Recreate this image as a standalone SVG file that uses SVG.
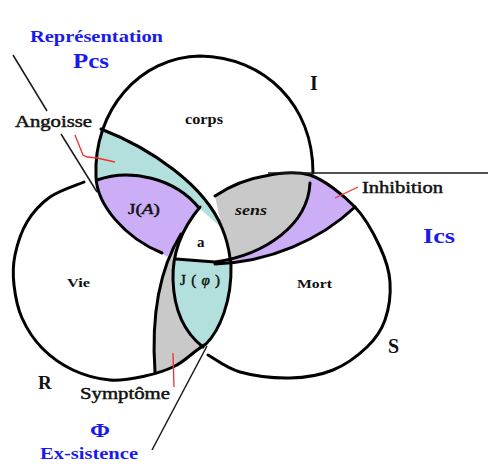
<svg xmlns="http://www.w3.org/2000/svg" width="488" height="474" viewBox="0 0 488 474">
<style>
.ring{fill:none;stroke:#000;stroke-width:3;stroke-linecap:round;stroke-linejoin:round}
.ptr{fill:none;stroke:#1a1a1a;stroke-width:1.5}
.red{fill:none;stroke:#f03030;stroke-width:1.3}
.teal{fill:#b3e0dd}
.purple{fill:#ccaef7}
.gray{fill:#c9c9c9}
text{font-family:"Liberation Serif","Times New Roman",serif;fill:#111}
.blue{fill:#1a1aee;font-weight:bold}
.b{font-weight:bold}
.m{stroke:#111;stroke-width:0.45}
</style>
<rect width="488" height="474" fill="#fff"/>
<g id="regions">
<path id="angoisse-region" class="teal" d="M101,129 C96,150 96,165 97,180 C130,168 175,178 199,208 L222,228 C205,185 150,148 101,129 Z"/>
<path id="JA-region" class="purple" d="M97,180 C130,168 175,178 199,208 C190,219 183,229 178,240 L167,257 L162,253 C125,238 97,205 96,177 Z"/>
<path id="symptome-region" class="gray" d="M181,234 C165,260 150,300 155,372 C175,367 190,358 205,346 C185,333 174,310 173,280 C172,262 175,248 181,234 Z"/>
<path id="Jphi-region" class="teal" d="M176,260 L231,263 C232,300 220,330 205,346 C185,333 174,310 173,280 C173,270 174,264 176,260 Z"/>
<path id="sens-region" class="gray" d="M215,196 C230,186 249,178.5 265,176 C280.8,172.5 295,170.7 310,175 L310,183 C308,225 268,252 231,259 C229,250 227,240 222,228 C219,215 217,205 215,196 Z"/>
<path id="inhibition-region" class="purple" d="M310,175 C325,180.3 343.3,195 355,207 C320,240 270,262 215,264 L218,262 C265,255 308,225 310,183 Z"/>
</g>
<g id="ring-I">
<path class="ring" d="M162,253 C125,238 97,205 96,177 C93,110 140,57 200,56 C265,57 313,105 313,173"/>
<path class="ring" d="M310,183 C308,225 265,255 215,262 L176,259"/>
<path class="ring" d="M97,180 C130,168 175,178 199,208"/>
<path class="ring" d="M355,207 C320,240 270,262 215,264"/>
</g>
<g id="ring-S">
<path class="ring" d="M215,196 C230,186 249,178.5 265,176 C280.8,172.5 295,170.7 310,175 C325,180.3 343.3,195 355,207 C366.7,219 374.2,234.5 380,247 C385.8,259.5 389.2,269.8 390,282 C390.8,294.2 388.8,309.2 385,320 C381.2,330.8 375.7,338.7 367,347 C358.3,355.3 345.8,364.8 333,370 C320.2,375.2 305.5,377.7 290,378 C274.5,378.3 253.7,375.8 240,372 C226.3,368.2 213.3,357.8 208,355"/>
<path class="ring" d="M200,207 C185,225 172,250 173,280 C174,310 185,333 203,347"/>
</g>
<g id="ring-R">
<path class="ring" d="M84,182 C78.3,184.5 59.5,190.3 50,197 C40.5,203.7 32.8,212.3 27,222 C21.2,231.7 17.2,244.5 15,255 C12.8,265.5 12.8,274.5 14,285 C15.2,295.5 17.3,307.5 22,318 C26.7,328.5 33.5,339.3 42,348 C50.5,356.7 61.7,364.7 73,370 C84.3,375.3 98,379 110,380 C122,381 134.2,378.3 145,376 C155.8,373.7 166.3,370.3 175,366 C183.7,361.7 191.8,353.7 197,350 C202.2,346.3 204.5,345 206,344 C220,330 232,300 231,265 L230,258 C229,250 227,240 222,228 C205,185 150,148 101,129"/>
<path class="ring" d="M181,234 C165,260 150,300 155,372"/>
</g>
<g id="connectors">
<path class="ptr" d="M13,55 L47,111"/>
<path class="ptr" d="M61,134 L97,192"/>
<path class="ptr" d="M152,450 L207,346"/>
<path class="ptr" stroke-width="2" d="M268,173 L488,173"/>
<polyline class="red" points="75,135 83,155 87,157 97,158 115,162"/>
<path class="red" d="M335,198 L358,187"/>
<path class="red" d="M173,353 L174,387"/>
</g>
<g id="labels">
<text class="blue" x="30" y="42" font-size="17" textLength="133" lengthAdjust="spacingAndGlyphs">Représentation</text>
<text class="blue" x="73" y="68" font-size="20" textLength="36" lengthAdjust="spacingAndGlyphs">Pcs</text>
<text class="b" x="310" y="90" font-size="20">I</text>
<text class="b" x="185" y="124" font-size="15" textLength="38" lengthAdjust="spacingAndGlyphs">corps</text>
<text class="m" x="15" y="127" font-size="16" textLength="77" lengthAdjust="spacingAndGlyphs">Angoisse</text>
<text class="m" x="128" y="214" font-size="15" textLength="32" lengthAdjust="spacingAndGlyphs">J(<tspan font-style="italic">A</tspan>)</text>
<text class="b" x="235" y="215" font-size="14" font-style="italic" textLength="32" lengthAdjust="spacingAndGlyphs">sens</text>
<text class="b" x="197" y="247" font-size="15">a</text>
<text class="m" x="180" y="285" font-size="15" textLength="40" lengthAdjust="spacing">J(<tspan font-style="italic">φ</tspan>)</text>
<text class="b" x="67" y="287" font-size="13" textLength="23" lengthAdjust="spacingAndGlyphs">Vie</text>
<text class="b" x="297" y="288" font-size="13" textLength="35" lengthAdjust="spacingAndGlyphs">Mort</text>
<text class="m" x="362" y="193" font-size="16" textLength="81" lengthAdjust="spacingAndGlyphs">Inhibition</text>
<text class="blue" x="423" y="243" font-size="20" textLength="32" lengthAdjust="spacingAndGlyphs">Ics</text>
<text class="b" x="388" y="353" font-size="20">S</text>
<text class="b" x="38" y="389" font-size="19">R</text>
<text class="m" x="80" y="399" font-size="16" textLength="90" lengthAdjust="spacingAndGlyphs">Symptôme</text>
<text class="blue" x="90" y="437" font-size="19" textLength="20" lengthAdjust="spacingAndGlyphs">Φ</text>
<text class="blue" x="40" y="459" font-size="17" textLength="98" lengthAdjust="spacingAndGlyphs">Ex-sistence</text>
</g>
</svg>
